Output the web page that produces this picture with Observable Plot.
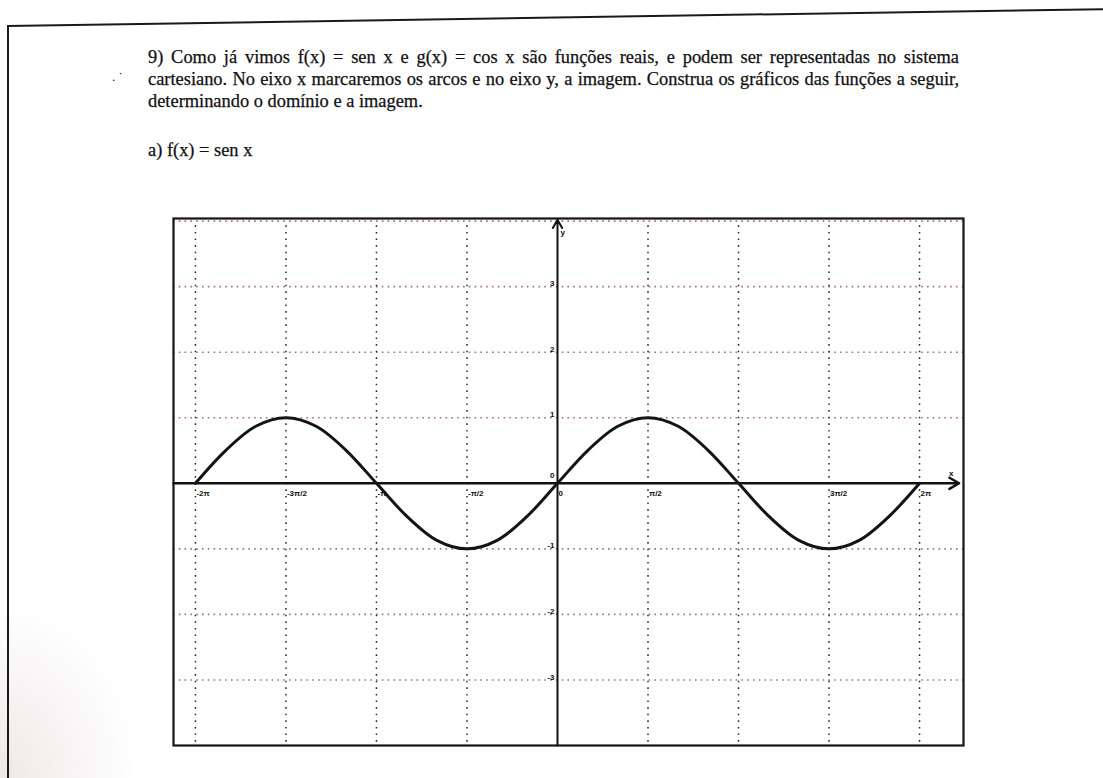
<!DOCTYPE html>
<html>
<head>
<meta charset="utf-8">
<script src="https://cdn.jsdelivr.net/npm/d3@7"></script>
<script src="https://cdn.jsdelivr.net/npm/@observablehq/plot@0.6"></script>
<style>
  body { margin: 0; background: #fff; }
  #page { position: relative; width: 1103px; height: 778px; overflow: hidden;
          font-family: "Liberation Serif", "Times New Roman", serif; color: #111; }
  #chart { position: absolute; left: 0; top: 0; }
  .txt { position: absolute; left: 148px; width: 811px; font-size: 18.4px; line-height: 22px;
         text-align: justify; text-align-last: justify; -webkit-text-stroke: 0.25px #111; }
  .short { text-align: left; text-align-last: left; }
  .edge-top { position: absolute; left: 7px; top: 25px; width: 1110px; height: 2px; background: #1a1a1a;
              transform-origin: 0 50%; transform: rotate(-0.88deg); }
  .edge-left { position: absolute; left: 7px; top: 25px; width: 2px; height: 760px; background: #1a1a1a; }
  .shade { position: absolute; left: 0; top: 600px; width: 140px; height: 178px;
           background: radial-gradient(ellipse at 0% 100%, rgba(205,190,190,0.35), rgba(255,255,255,0) 70%); }
  .marks { position: absolute; left: 112px; top: 69px; font-size: 13px; }
</style>
</head>
<body>
<div id="page">
  <div class="shade"></div>
  <div class="edge-top"></div>
  <div class="edge-left"></div>
  <div class="marks">. ˙</div>
  <div class="txt" style="top:46px">9) Como já vimos f(x) = sen x e g(x) = cos x são funções reais, e podem ser representadas no sistema</div>
  <div class="txt" style="top:68px">cartesiano. No eixo x marcaremos os arcos e no eixo y, a imagem. Construa os gráficos das funções a seguir,</div>
  <div class="txt short" style="top:90px">determinando o domínio e a imagem.</div>
  <div class="txt short" style="top:139px">a) f(x) = sen x</div>
  <div id="chart"></div>
</div>
<script>
// Arcs in multiples of π/6 and the sine values plotted at each of them
const arcSixths = [-12, -11, -10, -9, -8, -7, -6, -5, -4, -3, -2, -1, 0,
                   1, 2, 3, 4, 5, 6, 7, 8, 9, 10, 11, 12];
const senValues = [0, 0.5, 0.87, 1, 0.87, 0.5, 0, -0.5, -0.87, -1, -0.87, -0.5, 0,
                   0.5, 0.87, 1, 0.87, 0.5, 0, -0.5, -0.87, -1, -0.87, -0.5, 0];

// Grid lines: vertical ones every π/2 (in halves of π), horizontal ones at integers
const gridHalfPi = [-4, -3, -2, -1, 1, 2, 3, 4];
const gridY = [-3, -2, -1, 1, 2, 3, 4];

// Tick labels on the x axis (in halves of π) and on the y axis
const xTickHalfPi = [-4, -3, -2, -1, 0, 1, 3, 4];
const xTickLabels = ["-2π", "-3π/2", "-π", "-π/2", "0", "π/2", "3π/2", "2π"];
const yTicks = [3, 2, 1, -1, -2, -3];
const yTickLabels = ["3", "2", "1", "-1", "-2", "-3"];

const HALF_PI = Math.PI / 2;
const curve = arcSixths.map((k, i) => ({x: k * Math.PI / 6, y: senValues[i]}));
const xTicks = xTickHalfPi.map((k, i) => ({x: k * HALF_PI, label: xTickLabels[i]}));
const yTickRows = yTicks.map((v, i) => ({y: v, label: yTickLabels[i]}));

const xMin = -6.664, xMax = 7.046, yMin = -4.0, yMax = 4.04;
const tickFont = {fontSize: 8, fontWeight: "bold", fontFamily: "Liberation Sans, Arial, sans-serif", fill: "#111"};

const chart = Plot.plot({
  width: 1103,
  height: 778,
  marginLeft: 173,
  marginRight: 140,
  marginTop: 218,
  marginBottom: 33,
  x: {domain: [xMin, xMax], axis: null},
  y: {domain: [yMin, yMax], axis: null},
  style: {background: "transparent", overflow: "visible"},
  marks: [
    Plot.ruleY(gridY, {stroke: "#a0605f", strokeWidth: 1.6, strokeDasharray: "1.6,4.2", strokeOpacity: 0.9}),
    Plot.ruleX(gridHalfPi.map(k => k * HALF_PI), {stroke: "#2a2a2a", strokeWidth: 1.5, strokeDasharray: "1.6,5", y1: yMin + 0.05, y2: yMax - 0.1}),
    Plot.frame({stroke: "#151515", strokeWidth: 2.2}),
    Plot.arrow([{x1: xMin, x2: 6.97, y: 0}], {x1: "x1", x2: "x2", y1: "y", y2: "y", stroke: "#111", strokeWidth: 2.4, headLength: 7, bend: 0}),
    Plot.arrow([{y1: yMin, y2: yMax - 0.02, x: 0}], {x1: "x", x2: "x", y1: "y1", y2: "y2", stroke: "#111", strokeWidth: 2, headLength: 7, bend: 0}),
    Plot.line(curve, {x: "x", y: "y", curve: "catmull-rom", stroke: "#141414", strokeWidth: 3}),
    Plot.text(xTicks, {x: "x", y: 0, text: "label", textAnchor: "start", dx: 1, dy: 10, ...tickFont}),
    Plot.text(yTickRows, {x: 0, y: "y", text: "label", textAnchor: "end", dx: -3, dy: -3, ...tickFont}),
    Plot.text(["0"], {x: 0, y: 0, text: d => d, textAnchor: "end", dx: -3, dy: -8, ...tickFont}),
    Plot.text(["y"], {x: 0, y: yMax, text: d => d, textAnchor: "start", dx: 3, dy: 14, ...tickFont}),
    Plot.text(["x"], {x: 6.97, y: 0, text: d => d, textAnchor: "middle", dx: -8, dy: -10, ...tickFont})
  ]
});
document.getElementById("chart").appendChild(chart);
</script>
</body>
</html>
